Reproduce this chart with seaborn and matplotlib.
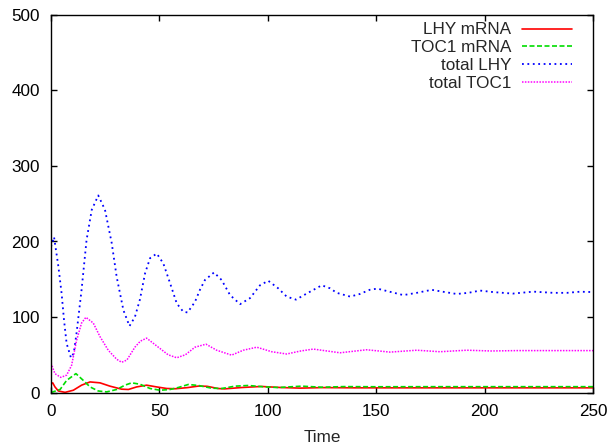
import numpy as np
import pandas as pd
import matplotlib
matplotlib.use("Agg")
import matplotlib.pyplot as plt
import seaborn as sns

# ---- data ----
lhy_total_t = [0, 1.4, 3.4, 4.9, 6, 7.2, 9.2, 10.5, 11.8, 14.1, 16.4, 18.8, 21.8, 24.9, 28, 30.3,
               33.4, 36.2, 38.7, 41, 43.4, 45.7, 48.8, 51.8, 54.9, 58, 61, 63, 66.4, 68.7, 71,
               75.2, 78.7, 82.6, 87.2, 91.8, 96.4, 100.2, 104.8, 108.7, 113, 117.9, 124.9,
               128.7, 131.8, 138, 142.5, 147, 150.5, 154.8, 162.5, 168.7, 175.6, 181.7, 187.1,
               192.5, 197.9, 204, 213, 222.5, 231.7, 238, 244, 250]
lhy_total_v = [193, 206, 167, 131, 96, 65, 46, 52, 79, 136, 202, 242, 261, 242, 198, 153,
               109, 88, 100, 123, 158, 178, 184, 171, 145, 118, 107, 106, 120, 136, 149,
               159, 149, 129, 117, 125, 142, 148, 138, 127, 123, 131, 142,
               138, 132, 127, 130.5, 136, 137.6, 134.5, 129, 132, 136, 133, 130.5,
               132, 135, 133, 131, 133.6, 132, 132, 133.5, 133]

toc1_total_t = [0, 1.8, 4.5, 7.2, 9.5, 11.8, 14.1, 16.1, 19.5, 22.6, 26.4, 30.3, 32.6, 35,
                38.7, 41.2, 44.1, 49.5, 54, 58, 62, 66.4, 71.5, 76.4, 83.3, 88.7, 94.9, 101.8,
                108.7, 115.2, 121, 133.3, 145.6, 156.4, 168.7, 179.4, 191.7, 203, 215, 230, 250]
toc1_total_v = [39, 25, 20, 23, 36, 69, 92, 99.6, 92, 74, 56, 44, 40, 43,
                60, 68, 72, 60, 50, 46, 50, 60, 64, 56, 49.5, 56, 60, 54,
                51, 55, 57.5, 52.6, 56.6, 53.5, 56, 54, 56, 55, 55.5, 55.5, 55.5]

lhy_mrna_t = [0, 0.8, 1.8, 3.4, 6.5, 10.3, 14.1, 18, 22.6, 27.2, 32.6, 35.7, 39.5, 44.1, 48.7,
              53.4, 57.5, 63, 68, 72, 77, 80, 88, 97, 106, 115, 125, 140, 160, 200, 250]
lhy_mrna_v = [11, 12.8, 7.5, 2, 0.2, 3, 9.7, 14, 12.8, 8.4, 4.4, 4, 7.4, 9.7, 7.4,
              5.3, 5.0, 6.5, 8.5, 8.2, 5.3, 4.8, 6.6, 8, 6.6, 5.8, 6.5, 6.2, 6.2, 6.2, 6.2]

toc1_mrna_t = [0, 4.2, 7.2, 11.5, 14.9, 18, 21.8, 25.7, 30.3, 34.1, 37.2, 41, 45.7, 50.3,
               54.9, 58.7, 63.3, 68, 74.1, 78.7, 84.9, 91, 98.7, 104.8, 115.6, 124.9, 135,
               150, 175, 200, 250]
toc1_mrna_v = [0, 4, 16, 25, 16, 7.4, 2, 0.8, 4, 9.7, 12.8, 11, 5.3, 3,
               4, 6.6, 10.6, 9.3, 5.7, 5.3, 8.4, 9.3, 7.4, 6.6, 8.4, 7, 7.8,
               7.6, 7.7, 7.7, 7.7]

x_ticks = [0, 50, 100, 150, 200, 250]
y_ticks = [0, 100, 200, 300, 400, 500]
labels = ["LHY mRNA", "TOC1 mRNA", "total LHY", "total TOC1"]

# ---- styling ----
sns.set_style("ticks")
plt.rcParams['font.family'] = ['Liberation Sans', 'DejaVu Sans']
FS = 12.3

fig = plt.figure(figsize=(6.15, 4.44), dpi=100)
W, H = 615, 444
left, right, top, bottom = 51, 593, 15, 392.5
ax = fig.add_axes([left / W, (H - bottom) / H, (right - left) / W, (bottom - top) / H])

series = [
    (lhy_mrna_t, lhy_mrna_v, "#ff0000", "-", 1.2),
    (toc1_mrna_t, toc1_mrna_v, "#00dd00", (0, (3, 1.5)), 1.2),
    (lhy_total_t, lhy_total_v, "#0000ff", (0, (1, 2.0)), 1.3),
    (toc1_total_t, toc1_total_v, "#ff00ff", (0, (1, 0.9)), 1.1),
]
for (t, v, c, ls, lw), lab in zip(series, labels):
    df = pd.DataFrame({"Time": t, "value": v})
    sns.lineplot(data=df, x="Time", y="value", ax=ax, color=c, linestyle=ls,
                 linewidth=lw, label=lab)

ax.set_xlim(0, 250)
ax.set_ylim(0, 500)
ax.set_xticks(x_ticks)
ax.set_yticks(y_ticks)
ax.set_xticklabels([str(v) for v in x_ticks], fontsize=FS)
ax.set_yticklabels([str(v) for v in y_ticks], fontsize=FS)
ax.set_xlabel("Time", fontsize=FS, labelpad=8.5)
ax.set_ylabel("")
for s in ax.spines.values():
    s.set_visible(True)
    s.set_color("black")
    s.set_linewidth(1.0)
ax.tick_params(direction="in", top=True, right=True, length=4.5, width=1.0,
               pad=8, colors="black")
ax.grid(False)

leg = ax.legend(loc="upper right", bbox_to_anchor=((572 - left) / (right - left), 1 - 7.5 / (bottom - top)),
                frameon=False, markerfirst=False, fontsize=FS, handlelength=2.9,
                handletextpad=0.65, labelspacing=0.16, borderaxespad=0, borderpad=0)

fig.savefig("out.png", dpi=100)
